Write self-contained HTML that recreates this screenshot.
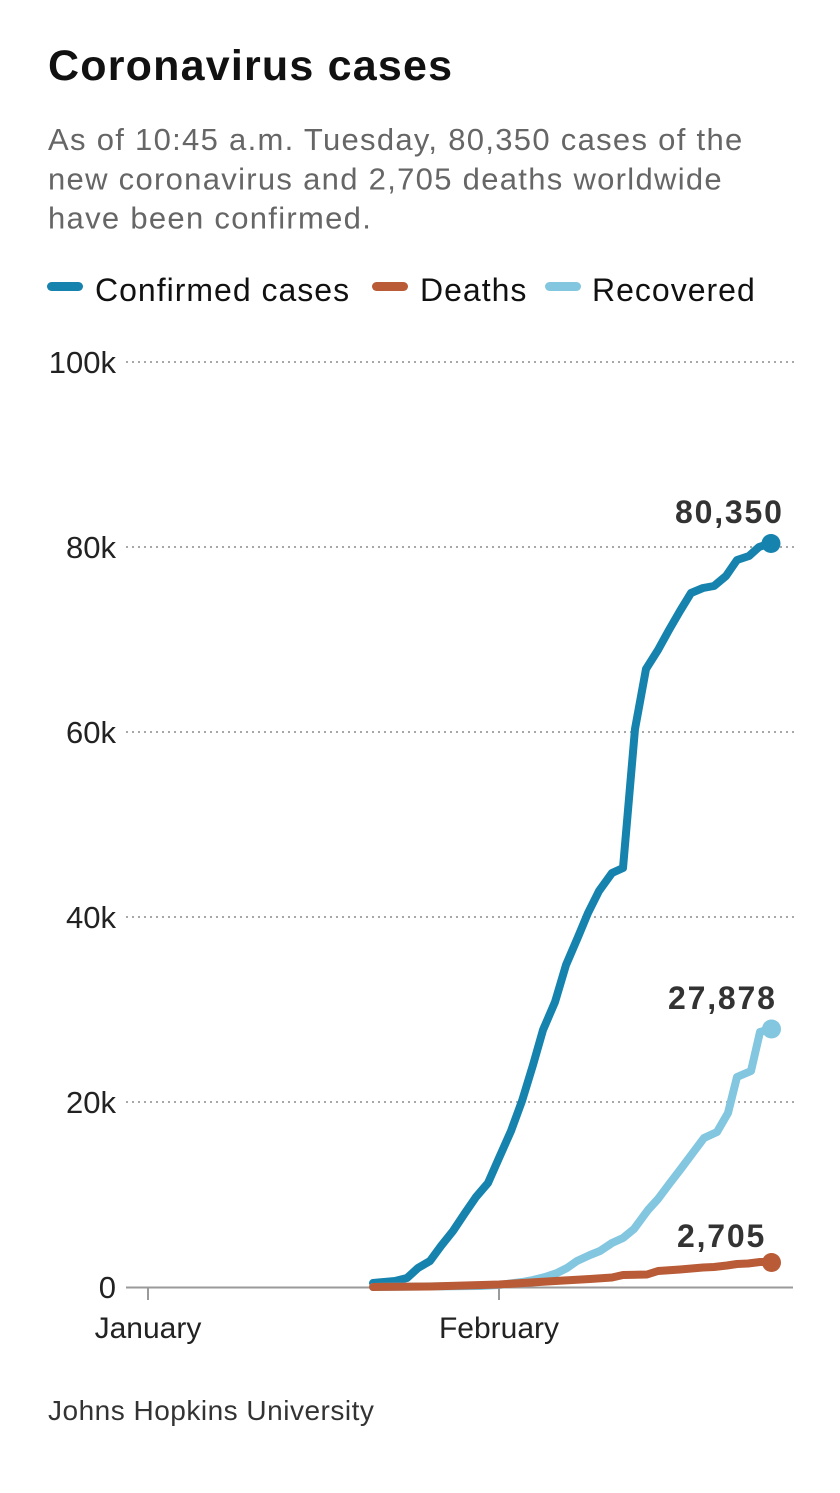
<!DOCTYPE html>
<html>
<head>
<meta charset="utf-8">
<style>
  html,body{margin:0;padding:0;background:#fff;}
  body{width:840px;height:1493px;overflow:hidden;}
  svg{display:block;}
  text{font-family:"Liberation Sans",Arial,sans-serif;}
</style>
</head>
<body>
<svg width="840" height="1493" viewBox="0 0 840 1493" xmlns="http://www.w3.org/2000/svg">
  <rect width="840" height="1493" fill="#fff"/>

  <!-- Title -->
  <text x="48" y="80" font-size="43" font-weight="bold" fill="#111" letter-spacing="1.2">Coronavirus cases</text>

  <!-- Subtitle -->
  <g font-size="31" fill="#666" letter-spacing="1.3">
    <text x="48" y="150">As of 10:45 a.m. Tuesday, 80,350 cases of the</text>
    <text x="48" y="189.5">new coronavirus and 2,705 deaths worldwide</text>
    <text x="48" y="228.5">have been confirmed.</text>
  </g>

  <!-- Legend -->
  <g stroke-linecap="round" stroke-width="9">
    <line x1="51.5" y1="286.5" x2="78.5" y2="286.5" stroke="#1583ad"/>
    <line x1="376.5" y1="286.5" x2="403.5" y2="286.5" stroke="#b85b36"/>
    <line x1="549.5" y1="286.5" x2="576.5" y2="286.5" stroke="#82c6e0"/>
  </g>
  <g font-size="32" fill="#111" letter-spacing="1">
    <text x="95" y="301">Confirmed cases</text>
    <text x="420" y="301">Deaths</text>
    <text x="592" y="301">Recovered</text>
  </g>

  <!-- Gridlines -->
  <g stroke="#a8a8a8" stroke-width="2" stroke-dasharray="2 4">
    <line x1="126" y1="362" x2="794" y2="362"/>
    <line x1="126" y1="547" x2="794" y2="547"/>
    <line x1="126" y1="732" x2="794" y2="732"/>
    <line x1="126" y1="917" x2="794" y2="917"/>
    <line x1="126" y1="1102" x2="794" y2="1102"/>
  </g>
  <!-- Zero axis & ticks -->
  <line x1="126" y1="1287.5" x2="793" y2="1287.5" stroke="#9a9a9a" stroke-width="2"/>
  <line x1="148" y1="1287" x2="148" y2="1300" stroke="#9a9a9a" stroke-width="2"/>
  <line x1="499" y1="1287" x2="499" y2="1300" stroke="#9a9a9a" stroke-width="2"/>

  <!-- Y labels -->
  <g font-size="31" fill="#222" text-anchor="end">
    <text x="116" y="373">100k</text>
    <text x="116" y="558">80k</text>
    <text x="116" y="743">60k</text>
    <text x="116" y="928">40k</text>
    <text x="116" y="1113">20k</text>
    <text x="116" y="1298">0</text>
  </g>

  <!-- X labels -->
  <g font-size="30" fill="#222" text-anchor="middle">
    <text x="148" y="1338">January</text>
    <text x="499" y="1338">February</text>
  </g>

  <!-- Confirmed -->
  <polyline fill="none" stroke="#1583ad" stroke-width="8" stroke-linejoin="round" stroke-linecap="round"
    points="373,1283 395,1281 407,1278 418,1268 430,1261 441,1246 453,1231 465,1213 476,1197 488,1183 499,1158 511,1131 522,1101 533,1065 543,1030 555,1002 566,965 578,937 588,913 599,891 612,873 623,868 635,729 646,669 658,650 669,630 680,611 691,593 703,588 714,586 726,576 737,560 749,556 759,547 771,543"/>
  <circle cx="771" cy="543.5" r="9.5" fill="#1583ad"/>

  <!-- Recovered -->
  <polyline fill="none" stroke="#82c6e0" stroke-width="8" stroke-linejoin="round" stroke-linecap="round"
    points="373,1287 480,1286 499,1285 522,1282 533,1280 545,1277 557,1273 567,1268 577,1261 590,1255 600,1251 612,1243 623,1238 634,1229 648,1210 658,1199 670,1183 680,1170 692,1154 704,1138 717,1132 728,1113 737,1077 751,1071 760,1032 771,1029"/>
  <circle cx="771.5" cy="1029" r="9.5" fill="#82c6e0"/>

  <!-- Deaths -->
  <polyline fill="none" stroke="#b85b36" stroke-width="8" stroke-linejoin="round" stroke-linecap="round"
    points="373,1287 430,1286.5 499,1284.5 555,1281 590,1279 612,1277.5 623,1275 647,1274.5 658,1271 680,1269.5 703,1267.5 714,1267 727,1265.5 737,1264 748,1263.5 760,1262 771,1262"/>
  <circle cx="771.5" cy="1262.5" r="9.5" fill="#b85b36"/>

  <!-- Annotations -->
  <g font-size="32" font-weight="bold" fill="#333" letter-spacing="1.8">
    <text x="675" y="523">80,350</text>
    <text x="668" y="1009">27,878</text>
    <text x="677" y="1247">2,705</text>
  </g>

  <!-- Source -->
  <text x="48" y="1420" font-size="28" fill="#333" letter-spacing="0.5">Johns Hopkins University</text>
</svg>
</body>
</html>
